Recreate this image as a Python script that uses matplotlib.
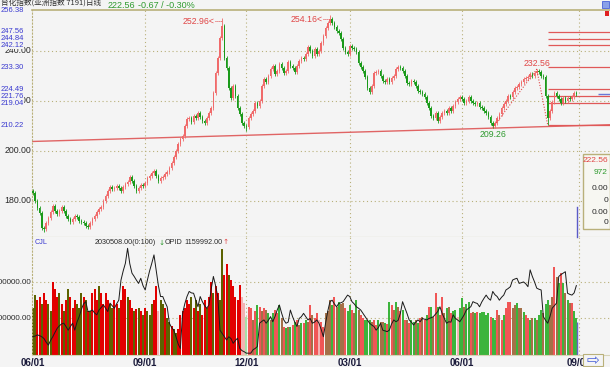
import matplotlib
matplotlib.use("Agg")
import matplotlib.pyplot as plt
from matplotlib.patches import Rectangle
from matplotlib.lines import Line2D

plt.rcParams['font.family'] = ['Liberation Sans', 'DejaVu Sans', 'Noto Sans CJK SC']

# daily closes, first open
first_open = 184.0
closes = [
    183, 180, 177, 175, 169, 168.5, 171, 173, 175.5, 178,
    176, 174.5, 176, 177.5, 176, 174, 172.5, 171.5, 172.5, 174,
    173.5, 172, 171.5, 171, 170, 169.5, 171, 172.5, 174, 175.5,
    176.5, 177.5, 180, 182, 184, 185.5, 184.5, 185, 186, 185,
    184, 185.5, 186.5, 187.5, 189.5, 188, 186, 184, 185, 186.3,
    186, 187, 189, 190, 191, 192, 190, 188, 189, 189.5,
    190.5, 191.5, 193, 195, 197.5, 200, 202.5, 204.5, 206, 210,
    212.5, 213, 211.5, 214, 213, 215, 213.5, 212, 211, 213,
    215, 217, 223, 231, 237, 245, 250, 237, 233, 225,
    221, 226, 222, 217, 214.5, 211, 210, 209.5, 213, 214.5,
    216, 219, 218, 220, 226, 228.5, 227.5, 230, 232.5, 234,
    230.5, 232, 234.5, 233, 231, 232, 235.5, 234, 233, 231.5,
    234, 236, 237, 236.5, 238.5, 241.5, 240, 238, 240.5, 238.5,
    240, 243, 246, 249, 251, 252.5, 251, 249.5, 248, 247,
    244.5, 241, 239.5, 238.5, 242, 241, 240.5, 239.5, 235, 233.5,
    232, 229.5, 225, 223.5, 226, 231, 231.5, 232, 230, 228,
    227.5, 228.5, 227.5, 229, 230, 232.5, 233.5, 233, 232, 230,
    227, 226.5, 228, 227.5, 226, 224, 223.5, 222.5, 221.5, 219,
    217, 214, 213, 215, 212, 213.5, 215, 216, 215, 217,
    216, 218, 219.5, 220.5, 221.5, 220.5, 219, 220, 221.5, 220,
    219, 218.5, 219, 217.5, 217, 216, 215, 213.5, 211, 210,
    211, 213, 214.5, 217, 218.5, 220, 222, 221.5, 223.5, 225,
    225.5, 226.5, 227.5, 228.5, 229, 229.5, 230.5, 230, 231, 232,
    231.5, 230, 229.5, 222, 213, 216, 219.5, 223, 222, 220.5,
    219, 221, 220, 221, 220.5, 221.5, 223.23, 222.56,
]
# marked extremes: bar index -> (kind, value)
extremes = {5: ('low', 167.5), 86: ('high', 252.96), 97: ('low', 208.0),
            135: ('high', 254.16), 209: ('low', 209.26), 229: ('high', 232.56),
            234: ('low', 210.22)}

# volume in millions and colour code per bar
volume = [
    1.3, 1.65, 1.5, 1.6, 1.4, 1.7, 1.5, 1.4, 1.2, 2.0,
    1.8, 1.6, 1.7, 1.4, 1.2, 1.5, 1.8, 1.6, 1.3, 1.5,
    1.4, 1.3, 1.7, 1.6, 1.5, 1.2, 1.2, 1.7, 1.8, 1.5,
    1.9, 1.7, 1.4, 1.7, 1.5, 1.4, 1.3, 1.5, 1.4, 1.3,
    1.5, 1.9, 1.8, 1.6, 1.5, 1.3, 1.2, 1.25, 1.3, 1.2,
    1.1, 1.3, 1.2, 1.1, 1.4, 1.5, 1.9, 1.2, 1.5, 1.4,
    1.3, 1.0, 0.9, 0.8, 0.7, 0.6, 0.7, 1.1, 1.2, 1.3,
    1.5, 1.4, 1.6, 1.3, 1.5, 1.2, 1.4, 1.1, 1.5, 1.3,
    1.6, 2.0, 1.7, 1.9, 1.7, 1.5, 2.9, 2.2, 2.5, 2.2,
    2.05, 1.9, 1.6, 1.5, 1.92, 1.6, 1.41, 1.05, 1.32, 1.28,
    0.96, 1.2, 1.37, 1.32, 1.2, 1.28, 1.23, 1.14, 0.96, 1.14,
    1.23, 1.14, 1.37, 1.0, 0.78, 0.73, 0.78, 0.78, 0.82, 0.9,
    0.96, 0.82, 0.87, 0.87, 0.96, 0.9, 1.37, 1.1, 1.0, 1.14,
    0.96, 0.9, 0.78, 1.14, 1.2, 1.5, 1.37, 1.6, 1.32, 1.46,
    1.4, 1.41, 1.28, 1.2, 1.37, 1.23, 1.14, 1.5, 1.23, 1.1,
    1.0, 0.96, 0.96, 0.96, 0.91, 0.96, 0.82, 0.96, 0.9, 0.91,
    0.87, 0.85, 1.46, 1.37, 1.23, 1.46, 1.32, 1.2, 1.23, 0.96,
    0.96, 0.87, 0.96, 0.9, 0.96, 0.87, 1.0, 1.05, 0.96, 1.1,
    1.32, 1.32, 1.05, 1.69, 1.32, 1.1, 1.6, 1.14, 1.28, 1.32,
    1.14, 1.2, 1.23, 1.05, 1.3, 1.55, 1.32, 1.4, 1.46, 1.14,
    1.19, 1.14, 1.19, 1.14, 1.19, 1.19, 1.1, 1.14, 1.05, 1.0,
    0.96, 1.23, 1.1, 0.96, 1.1, 1.3, 1.46, 1.46, 1.3, 1.37,
    1.41, 1.3, 1.28, 1.19, 1.1, 1.0, 0.96, 1.0, 1.0, 0.96,
    1.1, 1.23, 1.14, 1.4, 1.5, 1.37, 1.6, 2.42, 2.14, 1.96,
    2.24, 1.96, 1.69, 1.5, 1.41, 1.42, 1.2, 1.0,
]
vol_codes = (
    "OORRORROOR" "RRORORORRR" "OOOROROR RR".replace(" ", "") +
    "ORRRROORRO" "RRRORRORO R".replace(" ", "") +
    "OROOORRpOO" "ROOROORRRR" "RRORORORRO" "RRORROORRO" "RRRRRpplrr" +
    "brgrbrbgbg" "rrgbrgbgrg" "rbgrgbrbrr" "prrbbbgrbg" "bbrggrbgbr" +
    "rgggbrrgbb" "grgrbgbrgr" "brggbgrbrg" "rgbrgbrbgb" "rggpggbggr" +
    "bgrgggggrg" "grbrgrrrbb" "gbbgrrgbgb" "ggbggbbrbg" "rgbgbrgg"
)
# black line in the volume pane (millions)
cjl = [
    0.5, 0.52, 0.55, 0.53, 0.5, 0.45, 0.35, 0.27, 0.4, 0.5,
    0.62, 0.73, 0.8, 0.85, 0.87, 0.78, 0.68, 0.78, 0.87, 0.68,
    0.9, 1.05, 1.25, 1.4, 1.46, 1.19, 1.2, 1.23, 1.15, 1.1,
    1.23, 1.3, 1.37, 1.28, 1.19, 1.42, 1.35, 1.28, 1.4, 1.5,
    2.05, 2.3, 2.51, 2.92, 2.5, 2.24, 2.15, 2.05, 1.96, 2.1,
    1.9, 1.78, 2.05, 2.3, 2.51, 2.74, 2.33, 1.9, 1.6, 1.6,
    1.45, 1.32, 0.87, 0.75, 0.68, 0.5, 0.3, 0.18, 1.14, 1.4,
    1.6, 1.74, 1.7, 1.69, 1.5, 1.32, 1.6, 1.46, 1.35, 1.28,
    1.37, 1.8, 2.15, 1.9, 1.6, 0.68, 0.59, 0.5, 0.41, 0.5,
    0.45, 0.32, 0.4, 0.46, 0.18, 0.12, 0.09, 0.05, 0.05, 0.05,
    0.14, 0.18, 0.23, 0.87, 0.92, 0.96, 0.87, 0.95, 1.05, 0.91,
    1.05, 1.23, 1.37, 1.15, 0.96, 0.87, 0.9, 1.23, 1.05, 0.9,
    0.78, 1.0, 1.05, 1.14, 1.05, 0.96, 1.0, 0.87, 0.9, 0.96,
    0.87, 0.7, 0.5, 0.87, 1.2, 1.46, 1.5, 1.4, 1.32, 1.41,
    1.43, 1.46, 1.55, 1.64, 1.6, 1.46, 1.4, 1.32, 1.28, 1.23,
    1.14, 1.05, 0.96, 0.87, 0.82, 0.78, 0.68, 0.75, 0.87, 0.68,
    0.66, 0.64, 0.68, 0.85, 0.96, 0.91, 0.95, 1.14, 1.46, 1.3,
    1.14, 0.96, 0.9, 0.82, 0.9, 0.96, 0.91, 1.0, 0.98, 0.96,
    1.0, 1.02, 1.05, 1.12, 1.19, 1.32, 1.14, 1.0, 0.87, 0.91,
    0.9, 1.1, 1.0, 0.96, 0.91, 1.0, 1.1, 1.23, 1.28, 1.32,
    1.46, 1.43, 1.41, 1.32, 1.45, 1.55, 1.64, 1.55, 1.5, 1.74,
    1.65, 1.6, 1.5, 1.58, 1.64, 1.78, 1.82, 1.87, 2.05, 2.08,
    2.1, 1.96, 1.98, 2.0, 1.95, 1.87, 2.33, 2.15, 2.0, 1.83,
    1.8, 1.78, 1.05, 0.95, 0.87, 1.05, 1.28, 1.35, 1.42, 2.15,
    2.2, 2.24, 2.28, 1.69, 1.66, 1.64, 1.7, 1.9,
]

date_ticks = [0, 51, 97, 144, 195, 248]
date_labels = ['06/01', '09/01', '12/01', '03/01', '06/01', '09/01']
price_grid = [240, 220, 200, 180]
golden = [247.56, 244.84, 242.12, 233.30, 224.49, 221.76, 219.04, 210.22]
trend_pts = [(0, 203.7), (247, 210.0)]
zigzag_i = [209, 229, 234]
zigzag_p = [209.26, 232.56, 210.22]

W, H = 610, 367
fig = plt.figure(figsize=(W / 100, H / 100), dpi=100)
bg = '#f4f4f4'
fig.patch.set_facecolor(bg)
tan = '#b9b07a'


def fx(px):
    return px / W


def fy(py):
    return 1 - py / H


ax = fig.add_axes([fx(32), fy(237), fx(610) - fx(32), fy(10) - fy(237)])
axv = fig.add_axes([fx(32), fy(355), fx(610) - fx(32), fy(237) - fy(355)])
for a in (ax, axv):
    a.set_facecolor(bg)
    a.set_xlim(-0.45, 262.3)
    a.set_xticks([])
    a.set_yticks([])
    a.spines['right'].set_visible(False)
    a.spines['left'].set_color(tan)
    a.spines['left'].set_linestyle((0, (1, 2)))
    for t in date_ticks[1:]:
        a.axvline(t, color=tan, lw=0.8, ls=(0, (1, 2.5)), zorder=0)
ax.spines['top'].set_color(tan)
ax.spines['bottom'].set_color(tan)
ax.spines['top'].set_linewidth(1.2)
axv.spines['top'].set_visible(False)
axv.spines['bottom'].set_color('#d8d4b8')

ax.set_ylim(165.48, 256.28)
axv.set_ylim(0, 3.23)
for g in price_grid:
    ax.axhline(g, color=tan, lw=0.8, ls=(0, (1, 2.5)), zorder=0)
for g in (1, 2):
    axv.axhline(g, color=tan, lw=0.8, ls=(0, (1, 2.5)), zorder=0)

# candles
up_c, dn_c = '#f06a6a', '#1a9a1a'
opens = [first_open] + closes[:-1]
for i, (o, c) in enumerate(zip(opens, closes)):
    col = up_c if c >= o else dn_c
    hi = max(o, c) + 0.8
    lo = min(o, c) - 0.8
    if i in extremes:
        kind, val = extremes[i]
        if kind == 'high':
            hi = val
        else:
            lo = val
    ax.vlines(i, lo, hi, color=col, lw=0.6, zorder=3)
    body = max(abs(c - o), 0.35)
    ax.bar(i, body, bottom=min(o, c), width=0.75, color=col, lw=0, zorder=4)

# trend line, golden levels, zigzag
ax.axline(trend_pts[0], trend_pts[1], color='#e06464', lw=1.0, zorder=2)
ax.hlines(golden, 234.1, 262.3, color='#e05858', lw=0.9, zorder=2)
ax.hlines(222.56, 256.8, 262.3, color='#6a78d8', lw=1.0, zorder=2)
ax.plot(zigzag_i, zigzag_p, color='#e04848', lw=0.8, ls=(0, (1, 1.5)), zorder=5)

red_t = '#e04646'
green_t = '#2e9a2e'
fs = 6.3
ax.text(82.6, 251.5, '252.96<', color=red_t, fontsize=fs, ha='right', va='center')
ax.plot([82.7, 85.8], [251.7, 251.7], color=red_t, lw=0.7, ls=(0, (1, 1)))
ax.text(131.6, 252.6, '254.16<', color=red_t, fontsize=fs, ha='right', va='center')
ax.plot([131.7, 134.6], [252.8, 252.8], color=red_t, lw=0.7, ls=(0, (1, 1)))
ax.text(229, 234.7, '232.56', color=red_t, fontsize=fs, ha='center', va='center')
ax.text(209, 206.5, '209.26', color=green_t, fontsize=fs, ha='center', va='center')

# volume
vcols = {'R': '#e20000', 'O': '#5c6200', 'r': '#f05656', 'g': '#3cb43c',
         'b': '#a47048', 'p': '#f4b2b2', 'l': '#a8e0a8'}
xs = list(range(len(volume)))
axv.bar(xs, volume, width=0.9, color=[vcols[c] for c in vol_codes], lw=0, zorder=2)
axv.plot(xs, cjl, color='#1a1a1a', lw=0.7, zorder=4)
axv.vlines(247.2, 0, 0.9, color='#6a60c8', lw=1.0, zorder=5)
axv.set_xticks(date_ticks)
axv.set_xticklabels(date_labels, fontsize=7, fontweight='bold', color='#1c1c3c')
axv.tick_params(axis='x', length=0, pad=2)

# figure texts
blue_t = '#3a3ad0'
dark_t = '#2a2a2a'


def ftext(px, py, s, **kw):
    fig.text(fx(px), fy(py), s, va='center', **kw)


for lab, py in (('240.00', 50.7), ('220.00', 100.7), ('200.00', 150.7), ('180.00', 200.7)):
    ftext(31, py, lab, ha='right', fontsize=fs, color=dark_t)
for lab, py in (('2000000.00', 282), ('1000000.00', 319)):
    ftext(31, py, lab, ha='right', fontsize=5.8, color=dark_t)
for lab, py in (('247.56', 31.8), ('244.84', 38.6), ('242.12', 45.4),
                ('233.30', 67.5), ('224.49', 89.5), ('221.76', 96.3), ('219.04', 103.1),
                ('210.22', 125.1)):
    ftext(1, py, lab, ha='left', fontsize=5.5, color=blue_t,
          bbox=dict(facecolor=bg, edgecolor='none', pad=0))

ftext(1, 3.5, '台化指数(亚洲指数 7191)日线', ha='left', fontsize=5.5, color='#303030',
      family=['Noto Sans CJK SC', 'DejaVu Sans'])
ftext(1, 11, '256.38', ha='left', fontsize=5.5, color=blue_t)
ftext(108, 5, '222.56', ha='left', fontsize=6.5, color=green_t)
ftext(138, 5, '-0.67 / -0.30%', ha='left', fontsize=6.5, color=green_t)

vfs = 5.2
ftext(35, 242.5, 'CJL', ha='left', fontsize=vfs, color=blue_t)
ftext(95, 242.5, '2030508.00(0:100)', ha='left', fontsize=vfs, color=dark_t)
ftext(159, 242.5, '↓', ha='left', fontsize=vfs, color=green_t, family=['DejaVu Sans'])
ftext(165, 242.5, 'OPID', ha='left', fontsize=vfs, color=dark_t)
ftext(184, 242.5, '1159992.00', ha='left', fontsize=vfs, color=dark_t)
ftext(222, 242.5, '↑', ha='left', fontsize=vfs, color=red_t, family=['DejaVu Sans'])

# info box on the right
fig.patches.append(Rectangle((fx(583), fy(229)), fx(610) - fx(583), fy(154) - fy(229),
                             transform=fig.transFigure, facecolor='#f7f7f2',
                             edgecolor=tan, lw=1.0, zorder=10))
for s, py, c in (('222.56', 161, red_t), ('972', 172, green_t), ('0.00', 188, dark_t),
                 ('0', 200, dark_t), ('0.00', 212, dark_t), ('0', 222, dark_t)):
    fig.text(fx(608), fy(py), s, ha='right', va='center', fontsize=6, color=c, zorder=11)
fig.lines.append(Line2D([fx(577), fx(577)], [fy(207), fy(237)], transform=fig.transFigure,
                        color='#5a5ac8', lw=1.0))

# scroll icon bottom right and tiny icons top right
fig.patches.append(Rectangle((fx(583), fy(366)), fx(603) - fx(583), fy(354) - fy(366),
                             transform=fig.transFigure, facecolor=bg, edgecolor=tan,
                             lw=0.8, zorder=10))
fig.text(fx(593), fy(360), '⇨', ha='center', va='center', fontsize=11, color='#4a62d8',
         family=['DejaVu Sans'], zorder=11)
fig.patches.append(Rectangle((fx(602), fy(8)), fx(609) - fx(602), fy(1) - fy(8),
                             transform=fig.transFigure, facecolor='#8aa0e8',
                             edgecolor='#4a62d8', lw=0.6, zorder=10))
fig.patches.append(Rectangle((fx(605), fy(16)), fx(609) - fx(605), fy(11) - fy(16),
                             transform=fig.transFigure, facecolor='#e02020',
                             edgecolor='none', zorder=10))

fig.savefig('out.png', dpi=100, facecolor=bg)
